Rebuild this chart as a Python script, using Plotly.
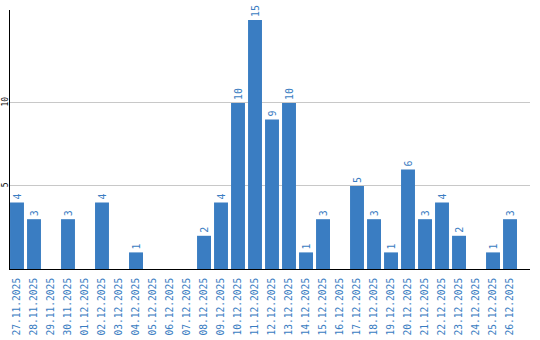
import plotly.graph_objects as go

dates = ["27.11.2025","28.11.2025","29.11.2025","30.11.2025","01.12.2025","02.12.2025",
         "03.12.2025","04.12.2025","05.12.2025","06.12.2025","07.12.2025","08.12.2025",
         "09.12.2025","10.12.2025","11.12.2025","12.12.2025","13.12.2025","14.12.2025",
         "15.12.2025","16.12.2025","17.12.2025","18.12.2025","19.12.2025","20.12.2025",
         "21.12.2025","22.12.2025","23.12.2025","24.12.2025","25.12.2025","26.12.2025"]
values = [4,3,0,3,0,4,0,1,0,0,0,2,4,10,15,9,10,1,3,0,5,3,1,6,3,4,2,0,1,3]
y_ticks = [5, 10]

blue = "#3a7dc2"
labels = [str(v) if v else "" for v in values]

fig = go.Figure(go.Bar(
    x=dates, y=values, text=labels, textposition="outside", textangle=-90,
    textfont=dict(family="DejaVu Sans Mono", size=10, color=blue),
    marker=dict(color=blue, line=dict(width=0)), width=0.82, cliponaxis=False,
    hoverinfo="skip",
))
fig.update_layout(
    width=540, height=340, margin=dict(l=10, r=10, t=10, b=71),
    plot_bgcolor="white", paper_bgcolor="white", showlegend=False,
    bargap=0.18,
)
fig.update_xaxes(type="category", range=[-0.412, 30.176], tickangle=-90, automargin=False,
                 tickfont=dict(family="DejaVu Sans Mono", size=9.6, color=blue),
                 showline=True, linecolor="black", linewidth=1, showgrid=False,
                 ticks="", ticklabelstandoff=4)
fig.update_yaxes(range=[0, 15.6], tickvals=y_ticks, ticktext=[str(t) for t in y_ticks],
                 tickangle=-90, automargin=False,
                 tickfont=dict(family="DejaVu Sans Mono", size=8, color="black"),
                 showline=True, linecolor="black", linewidth=1, showgrid=True,
                 gridcolor="#c8c8c8", gridwidth=1, zeroline=False, ticks="", ticklabelstandoff=-2)
fig.write_html("out.html")
